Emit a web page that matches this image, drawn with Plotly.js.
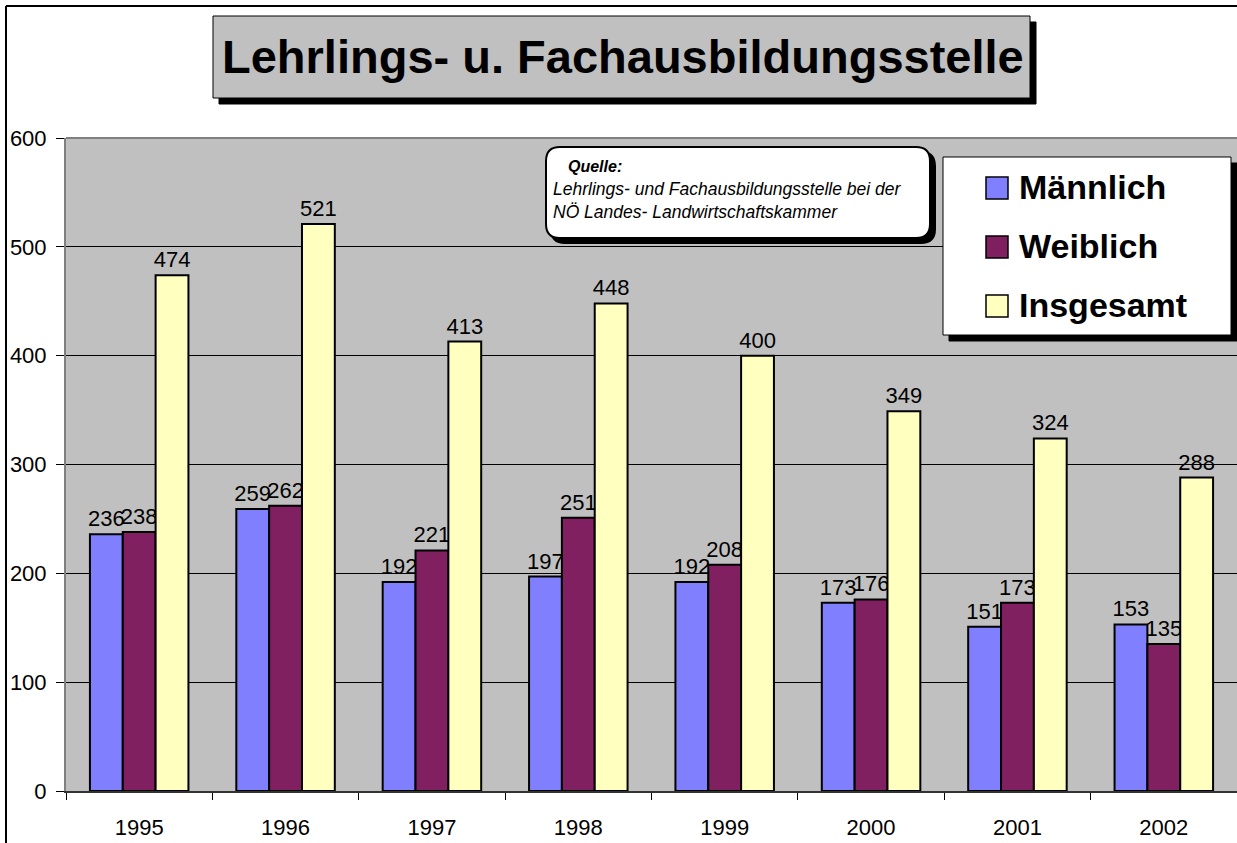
<!DOCTYPE html>
<html>
<head>
<meta charset="utf-8">
<script src="https://cdn.plot.ly/plotly-3.0.1.min.js"></script>
<style>
html,body{margin:0;padding:0;overflow:hidden;background:#fff;}
#chart{width:1237px;height:843px;}
</style>
</head>
<body>
<div id="chart"></div>
<script>
// ---- data ----
const years = ['1995','1996','1997','1998','1999','2000','2001','2002'];
const maennlich = [236, 259, 192, 197, 192, 173, 151, 153];
const weiblich  = [238, 262, 221, 251, 208, 176, 173, 135];
const insgesamt = [474, 521, 413, 448, 400, 349, 324, 288];
const seriesNames = ['Männlich', 'Weiblich', 'Insgesamt'];
const titleText = 'Lehrlings- u. Fachausbildungsstelle';
const sourceHead = 'Quelle:';
const sourceLines = ['Lehrlings- und Fachausbildungsstelle bei der', 'NÖ Landes- Landwirtschaftskammer'];

// ---- layout geometry ----
const W = 1237, H = 843;
const M = {l: 66, r: 0, t: 138, b: 52};
const PW = W - M.l - M.r, PH = H - M.t - M.b;
const px = x => (x - M.l) / PW;
const py = y => (H - M.b - y) / PH;

const colors = ['#8080FF', '#802060', '#FFFFC0'];
const FONT = 'Arial, "Liberation Sans", sans-serif';
const values = [maennlich, weiblich, insgesamt];

const traces = [];
values.forEach((v, i) => {
  traces.push({
    type: 'bar', x: years, y: v, name: seriesNames[i], showlegend: false,
    marker: {color: colors[i], line: {color: '#000', width: 2}},
    text: v.map(String), textposition: 'outside', cliponaxis: false,
    constraintext: 'none',
    textfont: {family: FONT, size: 22, color: '#000'},
    hoverinfo: 'x+y+name'
  });
});
// legend entries (symbols drawn enlarged as shapes below, Excel-style)
values.forEach((v, i) => {
  traces.push({
    type: 'scatter', mode: 'markers', x: [years[0]], y: [null], name: seriesNames[i],
    legendgroup: 'g' + i, showlegend: true,
    marker: {symbol: 'square', size: 16, color: colors[i], opacity: 0, line: {width: 0}},
    hoverinfo: 'skip'
  });
});

function rect(x0, y0, x1, y1, fill, line, lw) {
  return {type: 'rect', xref: 'paper', yref: 'paper', x0: px(x0), x1: px(x1), y0: py(y1), y1: py(y0),
    fillcolor: fill, line: {color: line, width: lw}, layer: 'above'};
}
function roundRect(x0, y0, x1, y1, r, fill, line, lw) {
  const P = (x, y) => px(x).toFixed(5) + ',' + py(y).toFixed(5);
  const path = 'M' + P(x0 + r, y0) + ' L' + P(x1 - r, y0) + ' Q' + P(x1, y0) + ' ' + P(x1, y0 + r) +
    ' L' + P(x1, y1 - r) + ' Q' + P(x1, y1) + ' ' + P(x1 - r, y1) +
    ' L' + P(x0 + r, y1) + ' Q' + P(x0, y1) + ' ' + P(x0, y1 - r) +
    ' L' + P(x0, y0 + r) + ' Q' + P(x0, y0) + ' ' + P(x0 + r, y0) + ' Z';
  return {type: 'path', xref: 'paper', yref: 'paper', path: path, fillcolor: fill,
    line: {color: line, width: lw}, layer: 'above'};
}

const shapes = [
  // white paper strip at right edge above plot
  rect(1226, 0, 1240, 137, '#FFFFFF', '#FFFFFF', 0),
  // outer frame
  {type: 'line', xref: 'paper', yref: 'paper', x0: px(6), x1: px(6), y0: py(850), y1: py(6), line: {color: '#000', width: 2}},
  {type: 'line', xref: 'paper', yref: 'paper', x0: px(6), x1: px(1240), y0: py(6), y1: py(6), line: {color: '#000', width: 2}},
  // plot area top border
  {type: 'line', xref: 'paper', yref: 'paper', x0: 0, x1: 1, y0: 1, y1: 1, line: {color: '#808080', width: 2}},
  // title box + shadow
  rect(219, 22, 1036, 104, '#000', '#000', 1),
  rect(213, 16, 1030, 98, '#C0C0C0', '#000', 1),
  // source box
  roundRect(551, 152, 935, 243, 14, '#000', '#000', 2),
  roundRect(546, 147, 930, 238, 14, '#FFFFFF', '#000', 2),
  // legend box
  rect(949, 163, 1243, 341, '#000', '#000', 1),
  rect(943, 157, 1231, 335, '#FFFFFF', '#000', 1)
];
// legend key squares
const keyRows = [188, 247, 306];
colors.forEach((c, i) => {
  shapes.push(rect(986, keyRows[i] - 11, 1008, keyRows[i] + 11, c, '#000', 1.5));
});

const annotations = [
  {xref: 'paper', yref: 'paper', x: px(623), y: py(57), xanchor: 'center', yanchor: 'middle',
   text: '<b>' + titleText + '</b>', showarrow: false,
   font: {family: FONT, size: 47, color: '#000'}},
  // source
  {xref: 'paper', yref: 'paper', x: px(566), y: py(166), xanchor: 'left', yanchor: 'middle',
   text: '<b><i>' + sourceHead + '</i></b>', showarrow: false, font: {family: FONT, size: 16, color: '#000'}},
  {xref: 'paper', yref: 'paper', x: px(551), y: py(200), xanchor: 'left', yanchor: 'middle', align: 'left',
   text: '<i>' + sourceLines.join('<br>') + '</i>', showarrow: false, font: {family: FONT, size: 17.5, color: '#000'}}
];

const layout = {
  width: W, height: H, margin: M,
  paper_bgcolor: '#FFFFFF', plot_bgcolor: '#C0C0C0',
  font: {family: FONT, size: 22, color: '#000'},
  barmode: 'group', bargap: 0.327, bargroupgap: 0,
  showlegend: true,
  legend: {x: px(979), y: py(157), xanchor: 'left', yanchor: 'top', bgcolor: 'rgba(0,0,0,0)', borderwidth: 0,
    font: {family: FONT, size: 34, color: '#000', weight: 'bold'}, traceorder: 'grouped', tracegroupgap: 12,
    itemclick: false, itemdoubleclick: false},
  xaxis: {type: 'category', tickson: 'boundaries', ticks: 'outside', ticklen: 7, tickcolor: '#000', tickwidth: 1,
    showline: true, linecolor: '#333', linewidth: 2, showgrid: false, zeroline: false,
    tickfont: {family: FONT, size: 22, color: '#000'}, ticklabelstandoff: 16, fixedrange: true},
  yaxis: {range: [0, 600], dtick: 100, ticks: 'outside', ticklen: 8, tickcolor: '#000', tickwidth: 1,
    showline: true, linecolor: '#808080', linewidth: 2, showgrid: true, gridcolor: '#000', gridwidth: 1,
    zeroline: false, tickfont: {family: FONT, size: 22, color: '#000'}, ticklabelstandoff: 5, fixedrange: true},
  shapes: shapes, annotations: annotations
};

Plotly.newPlot('chart', traces, layout, {displayModeBar: false, staticPlot: false});
</script>
</body>
</html>
